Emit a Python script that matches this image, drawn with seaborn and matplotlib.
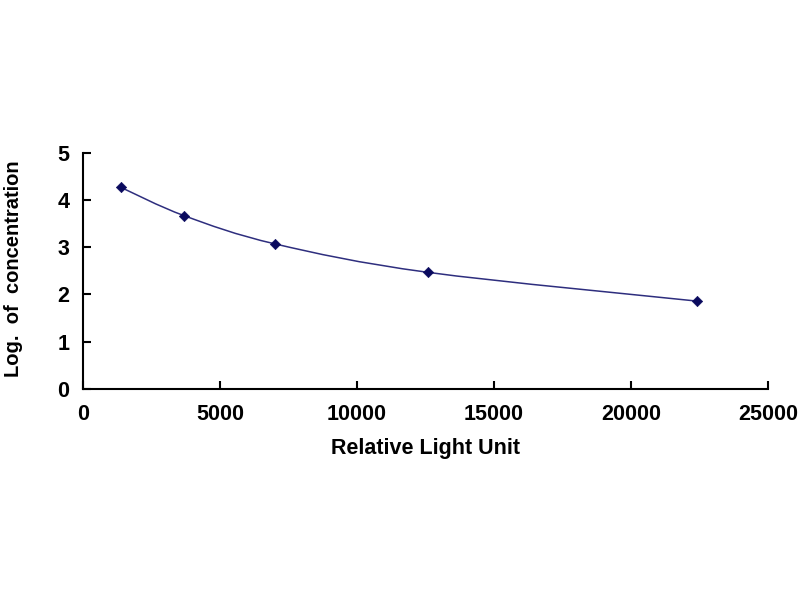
import numpy as np
import pandas as pd
import matplotlib
matplotlib.use("Agg")
import matplotlib.pyplot as plt
from matplotlib.path import Path
from matplotlib.patches import PathPatch
import seaborn as sns

# standard curve values
rlu = [1380, 3690, 7020, 12580, 22400]
log_conc = [4.27, 3.67, 3.07, 2.47, 1.86]

x_ticks = [0, 5000, 10000, 15000, 20000, 25000]
y_ticks = [0, 1, 2, 3, 4, 5]

df = pd.DataFrame({"rlu": rlu, "log_conc": log_conc})

sns.set_style("white")
plt.rcParams["font.family"] = ["Liberation Sans", "DejaVu Sans"]
plt.rcParams["font.weight"] = "bold"

fig = plt.figure(figsize=(8, 6), dpi=100)
ax = fig.add_axes([0.104, 0.352, 0.856, 0.393])

# smoothed line (Excel-style cubic bezier through the points)
pts = np.column_stack([rlu, log_conc])
verts = [tuple(pts[0])]
codes = [Path.MOVETO]
n = len(pts)
for i in range(n - 1):
    p0 = pts[i - 1] if i > 0 else pts[i]
    p1 = pts[i]
    p2 = pts[i + 1]
    p3 = pts[i + 2] if i + 2 < n else pts[i + 1]
    c1 = p1 + (p2 - p0) / 6.0
    c2 = p2 - (p3 - p1) / 6.0
    verts += [tuple(c1), tuple(c2), tuple(p2)]
    codes += [Path.CURVE4, Path.CURVE4, Path.CURVE4]
ax.add_patch(PathPatch(Path(verts, codes), facecolor="none",
                       edgecolor="#2e2e7e", linewidth=1.1, zorder=2))

sns.scatterplot(data=df, x="rlu", y="log_conc", marker="D", s=28,
                color="#0a0a5e", edgecolor="#0a0a5e", zorder=3, ax=ax)

ax.set_xlim(0, 25000)
ax.set_ylim(0, 5)
ax.set_xticks(x_ticks)
ax.set_yticks(y_ticks)
ax.set_xticklabels([str(v) for v in x_ticks])
ax.set_yticklabels([str(v) for v in y_ticks])

ax.tick_params(axis="both", direction="in", length=6, width=1.5,
               labelsize=15.5, colors="black", bottom=True, left=True)
ax.tick_params(axis="x", pad=11)
ax.tick_params(axis="y", pad=10)
for lbl in ax.get_xticklabels() + ax.get_yticklabels():
    lbl.set_fontweight("bold")

for side in ["top", "right"]:
    ax.spines[side].set_visible(False)
for side in ["left", "bottom"]:
    ax.spines[side].set_color("black")
    ax.spines[side].set_linewidth(1.5)

ax.set_xlabel("Relative Light Unit", fontsize=15.5, fontweight="bold",
              color="black", labelpad=9)
ax.set_ylabel("Log.  of  concentration", fontsize=14.5, fontweight="bold",
              color="black")
ax.yaxis.set_label_coords(-0.088, 0.51)

fig.savefig("out.png", dpi=100)
